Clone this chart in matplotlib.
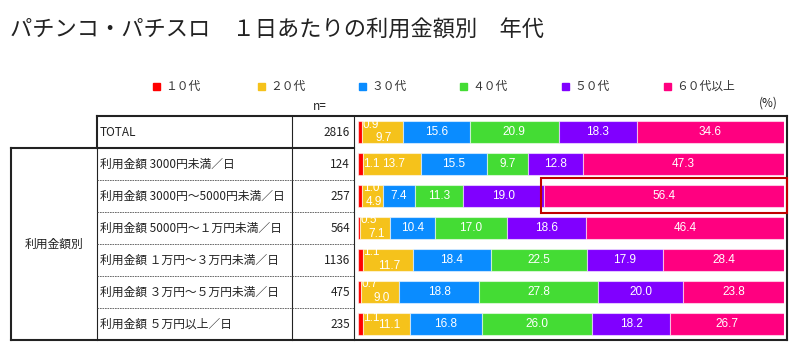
import matplotlib
matplotlib.use("Agg")
import matplotlib.pyplot as plt
from matplotlib.patches import Rectangle

plt.rcParams['font.family'] = ['Noto Sans CJK JP', 'DejaVu Sans']

title = "パチンコ・パチスロ　１日あたりの利用金額別　年代"
ages = ["１０代", "２０代", "３０代", "４０代", "５０代", "６０代以上"]
colors = ["#FF0000", "#F5C21B", "#0A8CFF", "#44DC34", "#8000FF", "#FF0080"]
rows = ["TOTAL",
        "利用金額 3000円未満／日",
        "利用金額 3000円～5000円未満／日",
        "利用金額 5000円～１万円未満／日",
        "利用金額 １万円～３万円未満／日",
        "利用金額 ３万円～５万円未満／日",
        "利用金額 ５万円以上／日"]
n_vals = [2816, 124, 257, 564, 1136, 475, 235]
age10 = [0.9, 1.1, 1.0, 0.5, 1.1, 0.7, 1.1]
age20 = [9.7, 13.7, 4.9, 7.1, 11.7, 9.0, 11.1]
age30 = [15.6, 15.5, 7.4, 10.4, 18.4, 18.8, 16.8]
age40 = [20.9, 9.7, 11.3, 17.0, 22.5, 27.8, 26.0]
age50 = [18.3, 12.8, 19.0, 18.6, 17.9, 20.0, 18.2]
age60 = [34.6, 47.3, 56.4, 46.4, 28.4, 23.8, 26.7]
series = [age10, age20, age30, age40, age50, age60]

# vertical nudges (in row units) for the two small labels on each bar
red_dy = [-0.22, 0, -0.25, -0.25, -0.25, -0.25, -0.2]
yel_dy = [0.2, 0, 0.2, 0.2, 0.2, 0.2, 0.03]
yel_dx = [0.3, 0.3, 0.3, 0.3, 0.3, 0.3, 0.6]

W, H = 800, 352
fig = plt.figure(figsize=(W / 100, H / 100), dpi=100)

# background axes in pixel coordinates for the table frame and texts
bg = fig.add_axes([0, 0, 1, 1])
bg.set_xlim(0, W)
bg.set_ylim(H, 0)
bg.axis('off')

bg.text(10, 30, title, fontsize=16, va='center', ha='left', color='#222222')

leg_x = [156, 261, 362, 463, 565, 667]
for lx, name, c in zip(leg_x, ages, colors):
    bg.add_patch(Rectangle((lx - 3.5, 82.5), 7, 7, color=c))
    bg.text(lx + 9, 86, name, fontsize=8.5, va='center', ha='left', color='#333333')

bg.text(320, 106, "n=", fontsize=8.5, ha='center', va='center', color='#222222')
bg.text(778, 103, "(%)", fontsize=8.5, ha='right', va='center', color='#222222')

top, row_h = 116, 32
bottom = top + row_h * len(rows)
dark = '#222222'
# outer frame
bg.plot([97, 787], [top, top], color=dark, lw=1.5)
bg.plot([787, 787], [top, bottom], color=dark, lw=1.5)
bg.plot([11, 787], [bottom, bottom], color=dark, lw=1.5)
bg.plot([97, 97], [top, top + row_h], color=dark, lw=1.5)
bg.plot([11, 11], [top + row_h, bottom], color=dark, lw=1.5)
bg.plot([11, 354], [top + row_h, top + row_h], color=dark, lw=1.5)
bg.plot([97, 97], [top + row_h, bottom], color=dark, lw=0.8)
bg.plot([292, 292], [top, bottom], color=dark, lw=0.8)
bg.plot([354, 354], [top, bottom], color=dark, lw=0.8)
for i in range(2, len(rows)):
    y = top + row_h * i
    bg.plot([97, 354], [y, y], color='#555555', lw=0.6, ls=(0, (2, 1)))

bg.text(54, (top + row_h + bottom) / 2, "利用金額別", fontsize=8.5,
        ha='center', va='center', color='#222222')
for i, (lab, n) in enumerate(zip(rows, n_vals)):
    yc = top + row_h * (i + 0.5)
    bg.text(100, yc, lab, fontsize=8.5, ha='left', va='center', color='#222222')
    bg.text(350, yc, str(n), fontsize=8.5, ha='right', va='center', color='#222222')

# bars
ax = fig.add_axes([358 / W, (H - bottom) / H, (784 - 358) / W, (bottom - top) / H])
ax.patch.set_alpha(0)
ax.set_xlim(0, 100)
ax.set_ylim(len(rows) - 0.5, -0.5)
ax.axis('off')

num_font = dict(color='white', fontsize=8.5, family=['Liberation Sans', 'DejaVu Sans'])
ypos = list(range(len(rows)))
left = [0.0] * len(rows)
for k, (vals, c) in enumerate(zip(series, colors)):
    ax.barh(ypos, vals, left=left, height=0.7, color=c,
            edgecolor=(1, 1, 1, 0.55), linewidth=0.8)
    for i, v in enumerate(vals):
        if k == 0:
            ax.text(left[i] + v + 0.1, i + red_dy[i], f"{v:.1f}",
                    ha='left', va='center', **num_font)
        elif k == 1:
            ax.text(left[i] + v / 2 + yel_dx[i], i + yel_dy[i], f"{v:.1f}",
                    ha='center', va='center', **num_font)
        else:
            ax.text(left[i] + v / 2, i, f"{v:.1f}",
                    ha='center', va='center', **num_font)
    left = [a + b for a, b in zip(left, vals)]

# highlight box around the 60+ segment of the 3000-5000 row
hl = 2
start = sum(s[hl] for s in series[:5])
ax.add_patch(Rectangle((start - 0.7, hl - 0.56), 100.6 - start + 0.7, 1.1,
                       fill=False, edgecolor='#C00000', lw=1.5, clip_on=False))

fig.savefig("out.png", dpi=100)
